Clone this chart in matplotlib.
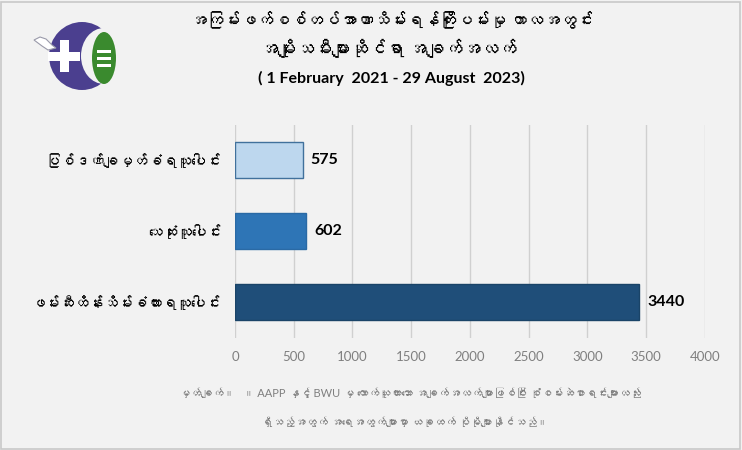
import matplotlib
matplotlib.use('Agg')
from matplotlib import pyplot as plt
from matplotlib import font_manager
from matplotlib.ft2font import FT2Font
from matplotlib.patches import Rectangle, Ellipse, Polygon
import numpy as np

# data
categories = ['ဖမ်းဆီးထိန်းသိမ်းခံထားရသူပေါင်း', 'သေဆုံးသူပေါင်း', 'ပြစ်ဒဏ်ချမှတ်ခံရသူပေါင်း']
values = [3440, 602, 575]
bar_colors = ['#1f4e79', '#2e75b6', '#bdd7ee']
x_ticks = [0, 500, 1000, 1500, 2000, 2500, 3000, 3500, 4000]

title_lines = ['အကြမ်းဖက်စစ်တပ်အာဏာသိမ်းရန်ကြိုးပမ်းမှု ကာလအတွင်း',
               'အမျိုးသမီးများဆိုင်ရာ အချက်အလက်',
               '( 1 February  2021 - 29 August  2023)']
note_lines = ['မှတ်ချက်။   ။ AAPP နှင့် BWU မှ ကောက်ယူထားသော အချက်အလက်များဖြစ်ပြီး စုံစမ်းဆဲစာရင်းများလည်း',
              'ရှိသည့်အတွက် အရေအတွက်များမှာ ယခုထက် ပိုမိုများနိုင်သည်။']

# look for any installed font with Myanmar glyphs
mm_family = None
for f in font_manager.fontManager.ttflist:
    try:
        if 0x1000 in FT2Font(f.fname).get_charmap():
            mm_family = f.name
            break
    except Exception:
        pass
families = ['Lato'] + ([mm_family] if mm_family else []) + ['DejaVu Sans']
plt.rcParams['font.family'] = families

bg = '#f2f2f2'
W, H = 742, 450
fig = plt.figure(figsize=(7.42, 4.5), dpi=100, facecolor=bg)
ax = fig.add_axes([0.3167, 0.25, 0.6333, 0.4733])
ax.set_facecolor(bg)

y = np.arange(len(categories))
ax.barh(y, values, height=0.5, color=bar_colors, edgecolor=['#1a4468', '#2a6aa5', '#41719c'], linewidth=1, zorder=3)
for yi, v in zip(y, values):
    ax.text(v + 70, yi, str(v), va='center', ha='left', fontsize=11.5, fontweight='bold', color='black')

ax.set_xlim(0, 4000)
ax.set_ylim(-0.5, 2.5)
ax.set_xticks(x_ticks)
ax.set_yticks(y)
ax.set_yticklabels(categories, fontsize=10.5, fontweight='bold')
ax.tick_params(axis='x', colors='#7f7f7f', labelsize=9.5, length=0, pad=10)
ax.tick_params(axis='y', length=0, pad=10)
ax.grid(axis='x', color='#d0d0d0', linewidth=1, zorder=0)
for s in ax.spines.values():
    s.set_visible(False)

# title
fig.text(0.528, 0.955, title_lines[0], ha='center', va='center', fontsize=12, fontweight='bold')
fig.text(0.523, 0.893, title_lines[1], ha='center', va='center', fontsize=13, fontweight='bold')
fig.text(0.528, 0.826, title_lines[2], ha='center', va='center', fontsize=11.5, fontweight='bold')

# note
fig.text(0.553, 0.125, note_lines[0], ha='center', va='center', fontsize=8, color='#7f7f7f')
fig.text(0.545, 0.062, note_lines[1], ha='center', va='center', fontsize=8, color='#7f7f7f')


# rough logo, in pixel units
def px_ellipse(cx, cy, w, h, **kw):
    fig.patches.append(Ellipse((cx / W, 1 - cy / H), w / W, h / H, transform=fig.transFigure, **kw))


def px_rect(x0, y0, w, h, **kw):
    fig.patches.append(Rectangle((x0 / W, 1 - (y0 + h) / H), w / W, h / H, transform=fig.transFigure, **kw))


px_ellipse(82, 56, 66, 68, facecolor='#4b3f8f', edgecolor='none')
px_ellipse(104, 56, 46, 56, facecolor=bg, edgecolor='none')
px_rect(48, 52, 32, 9, facecolor='white', edgecolor='none')
px_rect(60, 40, 9, 32, facecolor='white', edgecolor='none')
px_ellipse(104, 58, 24, 52, facecolor='#3a8a2e', edgecolor='none')
px_rect(97, 50, 14, 3, facecolor='white', edgecolor='none')
px_rect(97, 57, 14, 3, facecolor='white', edgecolor='none')
px_rect(97, 64, 14, 3, facecolor='white', edgecolor='none')
dove = [(34, 40), (40, 37), (46, 39), (52, 45), (56, 48), (48, 50), (42, 46)]
fig.patches.append(Polygon([(px / W, 1 - py / H) for px, py in dove], closed=True, transform=fig.transFigure,
                           facecolor='white', edgecolor='#9a9aaa', linewidth=0.8))

# frame
fig.patches.append(Rectangle((0.002, 0.003), 0.995, 0.993, transform=fig.transFigure, fill=False,
                             edgecolor='#c8c8c8', linewidth=1.2))

fig.savefig('out.png', dpi=100, facecolor=bg)
